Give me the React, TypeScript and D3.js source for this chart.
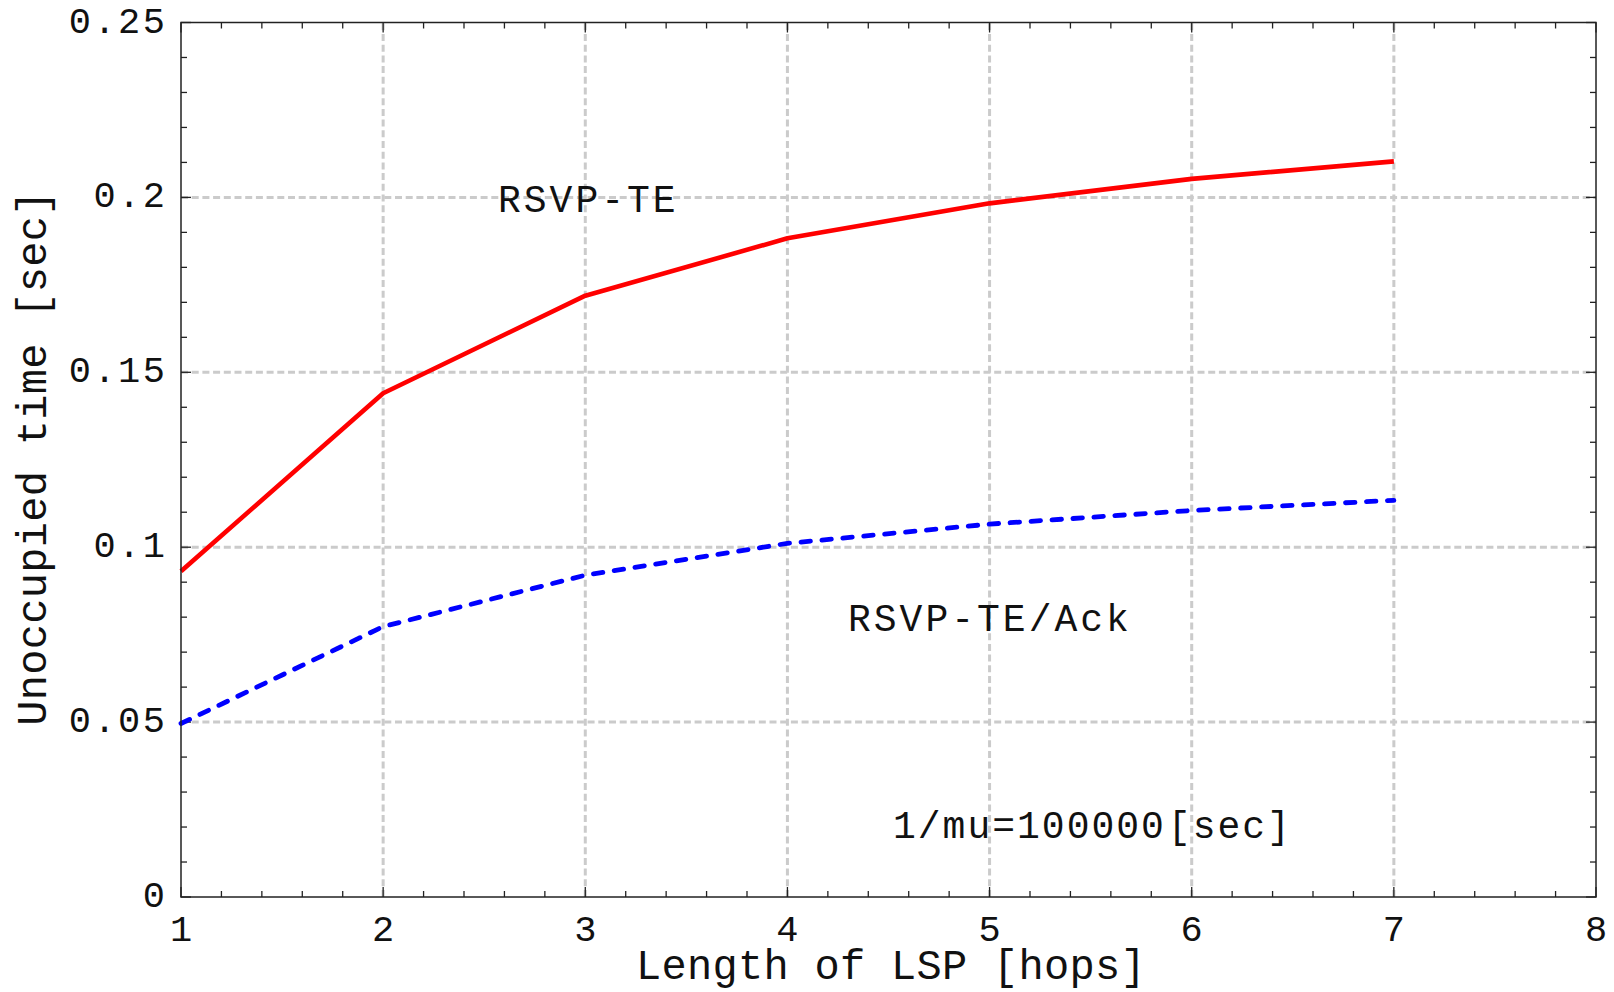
import * as d3 from "d3";

// chart size and plot box
const width = 1614;
const height = 992;
const marginTop = 22.5;
const marginRight = 18;
const marginBottom = 95;
const marginLeft = 181;

const hops = [1, 2, 3, 4, 5, 6, 7];
const rsvpTe = [0.0931, 0.144, 0.1719, 0.1883, 0.1983, 0.2053, 0.2103];
const rsvpTeAck = [0.0496, 0.0773, 0.092, 0.1011, 0.1066, 0.1105, 0.1134];

const xTicks = [1, 2, 3, 4, 5, 6, 7, 8];
const yTicks = [0, 0.05, 0.1, 0.15, 0.2, 0.25];
const yTickLabels = ["0", "0.05", "0.1", "0.15", "0.2", "0.25"];

const font = "'Liberation Mono', 'DejaVu Sans Mono', monospace";

const App = () => {
  const x = d3.scaleLinear().domain([1, 8]).range([marginLeft, width - marginRight]);
  const y = d3.scaleLinear().domain([0, 0.25]).range([height - marginBottom, marginTop]);

  const line = d3
    .line<number>()
    .x((_, i) => x(hops[i]))
    .y((d) => y(d));

  const x0 = x.range()[0];
  const x1 = x.range()[1];
  const y0 = y.range()[0];
  const y1 = y.range()[1];

  // minor ticks: 5 steps per x unit, 0.01 on y
  const xMinor = d3.range(0, 36).map((i) => 1 + i * 0.2);
  const yMinor = d3.range(0, 26).map((i) => i * 0.01);
  const isMajorX = (v: number) => Math.abs(v - Math.round(v)) < 1e-6;
  const isMajorY = (v: number) => Math.abs(v / 0.05 - Math.round(v / 0.05)) < 1e-6;

  return (
    <svg width={width} height={height} style={{ display: "block", position: "absolute", left: 0, top: 0 }}>
      <rect width={width} height={height} fill="white" />

      {/* grid */}
      <g stroke="#cbcbcb" strokeWidth={3} strokeDasharray="7 3.7">
        {xTicks.slice(1, -1).map((t) => (
          <line key={"gx" + t} x1={x(t)} x2={x(t)} y1={y0} y2={y1} />
        ))}
        {yTicks.slice(1, -1).map((t) => (
          <line key={"gy" + t} x1={x0} x2={x1} y1={y(t)} y2={y(t)} />
        ))}
      </g>

      {/* ticks on all four sides, inward */}
      <g stroke="#222" strokeWidth={1.3}>
        {xMinor.map((t, i) => {
          const len = isMajorX(t) ? 10 : 6;
          return (
            <g key={"xt" + i}>
              <line x1={x(t)} x2={x(t)} y1={y0} y2={y0 - len} />
              <line x1={x(t)} x2={x(t)} y1={y1} y2={y1 + len} />
            </g>
          );
        })}
        {yMinor.map((t, i) => {
          const len = isMajorY(t) ? 10 : 6;
          return (
            <g key={"yt" + i}>
              <line x1={x0} x2={x0 + len} y1={y(t)} y2={y(t)} />
              <line x1={x1} x2={x1 - len} y1={y(t)} y2={y(t)} />
            </g>
          );
        })}
      </g>

      {/* series */}
      <path d={line(rsvpTe) ?? ""} fill="none" stroke="#ff0000" strokeWidth={4.6} strokeLinejoin="round" />
      <path
        d={line(rsvpTeAck) ?? ""}
        fill="none"
        stroke="#0000ff"
        strokeWidth={4.8}
        strokeDasharray="9.5 11.5"
        strokeLinecap="round"
      />

      {/* frame */}
      <rect x={x0} y={y1} width={x1 - x0} height={y0 - y1} fill="none" stroke="#222" strokeWidth={1.5} />

      {/* tick labels */}
      <g fontFamily={font} fontSize={37} fill="#111" letterSpacing={2.5}>
        {xTicks.map((t) => (
          <text key={"xl" + t} x={x(t) + 1.25} y={941} textAnchor="middle">
            {t}
          </text>
        ))}
        {yTicks.map((t, i) => (
          <text key={"yl" + t} x={167.5} y={y(t)} textAnchor="end" dominantBaseline="central">
            {yTickLabels[i]}
          </text>
        ))}
      </g>

      {/* axis titles */}
      <text x={891} y={979} textAnchor="middle" fontFamily={font} fontSize={42} letterSpacing={0.3} fill="#111">
        Length of LSP [hops]
      </text>
      <text
        transform="translate(46,458) rotate(-90)"
        textAnchor="middle"
        fontFamily={font}
        fontSize={42}
        letterSpacing={0.3}
        fill="#111"
      >
        Unoccupied time [sec]
      </text>

      {/* annotations */}
      <g fontFamily={font} fontSize={38} fill="#111" letterSpacing={3}>
        <text x={498} y={212}>RSVP-TE</text>
        <text x={848} y={631}>RSVP-TE/Ack</text>
        <text x={893} y={838} letterSpacing={2}>
          1/mu=100000
          <tspan dx={2}>[sec]</tspan>
        </text>
      </g>
    </svg>
  );
};

export default App;
